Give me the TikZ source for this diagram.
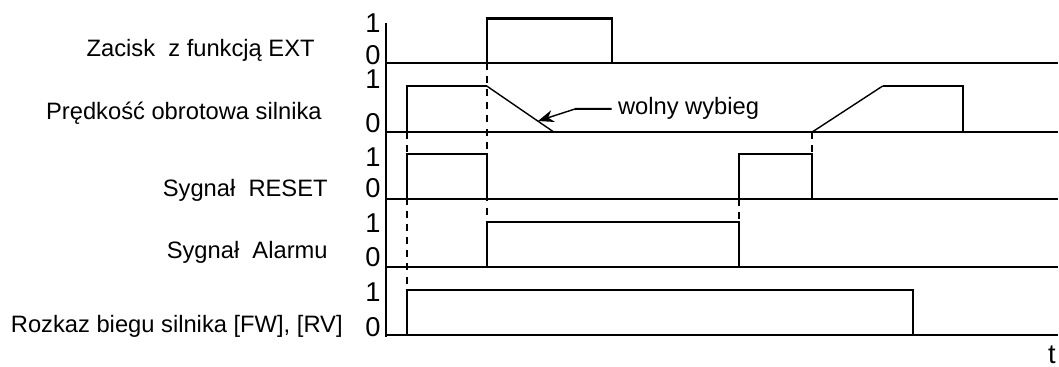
\documentclass[tikz,border=0pt]{standalone}
\usepackage{fontspec}
\setmainfont{Liberation Sans}
\usetikzlibrary{arrows.meta}

\begin{document}
\begin{tikzpicture}[x=0.02cm, y=-0.02cm,
    wave/.style={line width=1.15pt, line join=miter},
    ramp/.style={line width=0.8pt},
    guide/.style={line width=1.15pt, dash pattern=on 4pt off 3.5pt},
    sigtext/.style={anchor=base east, inner sep=0pt, font=\fontsize{13.5}{16}\selectfont},
    bit/.style={anchor=base, inner sep=0pt, font=\fontsize{15.5}{18}\selectfont},
    remark/.style={-{Stealth[length=9pt, width=7pt]}, line width=0.8pt}
]
\useasboundingbox (0,0) rectangle (1059,367);

% signal names
\node[sigtext] (ext) at (315,57) {Zacisk\ \ z funkcją EXT};
\node[sigtext] (speed) at (322,120) {Prędkość obrotowa silnika};
\node[sigtext] (reset) at (328,197) {Sygnał\ \ RESET};
\node[sigtext] (alarm) at (328,259) {Sygnał\ \ Alarmu};
\node[sigtext] (run) at (343,333) {Rozkaz biegu silnika [FW], [RV]};

% logic levels
\node[bit] (ext1) at (373,33) {1};
\node[bit] (ext0) at (373,65) {0};
\node[bit] (speed1) at (373,89) {1};
\node[bit] (speed0) at (373,133) {0};
\node[bit] (reset1) at (373,167) {1};
\node[bit] (reset0) at (373,198) {0};
\node[bit] (alarm1) at (373,233) {1};
\node[bit] (alarm0) at (373,267) {0};
\node[bit] (run1) at (373,302) {1};
\node[bit] (run0) at (373,337) {0};
\node[bit] (time) at (1052,364) {t};

% axis and zero lines
\draw[wave] (386,23) -- (386,337);
\draw[wave] (386,62.7) -- (1058,62.7);
\draw[wave] (386,131.7) -- (1058,131.7);
\draw[wave] (386,199) -- (1058,199);
\draw[wave] (386,267) -- (1058,267);
\draw[wave] (386,335) -- (1058,335);

% waveforms
\draw[wave] (486.7,62.7) -- (486.7,18.5) -- (611.7,18.5) -- (611.7,62.7);
\draw[wave] (406.7,131.7) -- (406.7,86) -- (486.7,86);
\draw[ramp] (486.7,86) -- (553.3,131.7);
\draw[ramp] (812.7,131.7) -- (882.7,86);
\draw[wave] (882.7,86) -- (962.7,86) -- (962.7,131.7);
\draw[wave] (406.7,199) -- (406.7,154) -- (486.7,154) -- (486.7,199);
\draw[wave] (739.3,199) -- (739.3,154) -- (811.7,154) -- (811.7,199);
\draw[wave] (486.7,267) -- (486.7,222) -- (739.3,222) -- (739.3,267);
\draw[wave] (406.7,335) -- (406.7,290) -- (913.3,290) -- (913.3,335);

% dashed guides
\draw[guide] (406.7,131.7) -- (406.7,290);
\draw[guide] (486.7,62.7) -- (486.7,222);
\draw[guide] (811.7,131.7) -- (811.7,154);
\draw[guide] (739.3,199) -- (739.3,222);

% coasting note
\node[sigtext, anchor=base west, inner xsep=3.4pt] (free) at (611.7,115) {wolny wybieg};
\coordinate (bend) at (575,109);
\coordinate (coast) at (538,121);
\draw[wave] (free.west) -- (bend);
\draw[remark] (bend) -- (coast);
\end{tikzpicture}
\end{document}
